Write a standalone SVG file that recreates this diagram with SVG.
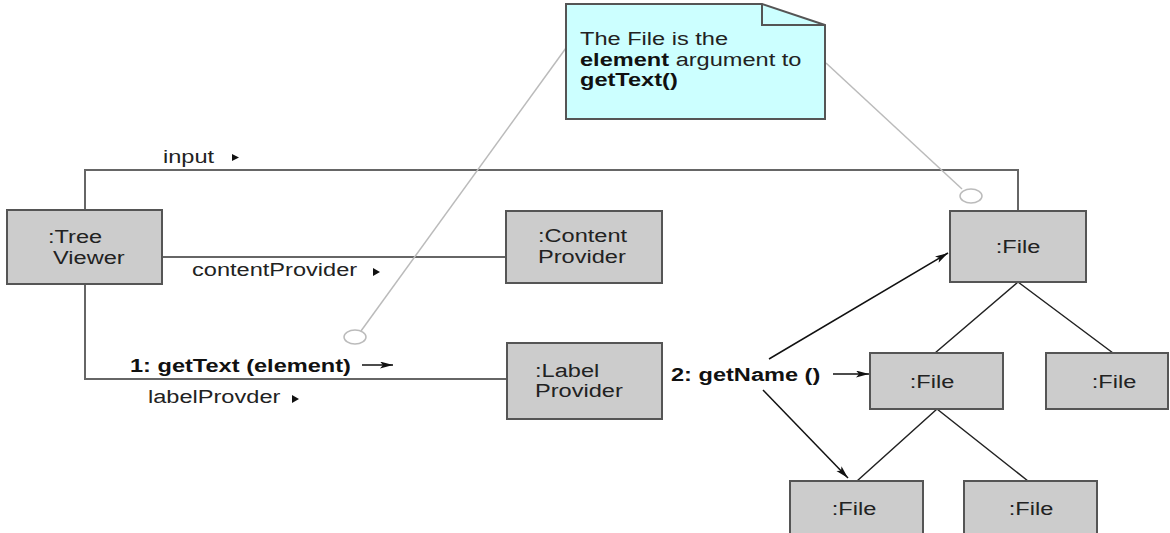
<svg xmlns="http://www.w3.org/2000/svg" width="1170" height="533" viewBox="0 0 1170 533">
  <defs>
    <marker id="arrow" markerUnits="userSpaceOnUse" markerWidth="14" markerHeight="8" refX="13" refY="3.5" orient="auto">
      <path d="M0,0 L13,3.5 L0,7 L3,3.5 Z" fill="#111"/>
    </marker>
  </defs>
  <style>
    text { font-family: "Liberation Sans", Arial, sans-serif; font-size: 18px; fill: #222; }
    .b { font-weight: bold; fill: #111; }
    .mid { text-anchor: middle; }
    .box { fill: #cccccc; stroke: #555; stroke-width: 2; }
    .link { fill: none; stroke: #666; stroke-width: 2; }
    .tree { fill: none; stroke: #222; stroke-width: 1.5; }
    .msg { fill: none; stroke: #111; stroke-width: 1.5; }
    .anchor { fill: none; stroke: #bbb; stroke-width: 1.5; }
    .tri { fill: #111; }
  </style>

  <!-- links between objects -->
  <g id="connectors">
    <path class="link" d="M85,210 V170 H1018 V211"/>
    <path class="link" d="M162,257 H506"/>
    <path class="link" d="M85,284 V379 H507"/>

    <!-- file tree -->
    <path class="tree" d="M1018,282 L935,353 M1018,282 L1113,353"/>
    <path class="tree" d="M937,409 L857,481 M937,409 L1028,481"/>

    <!-- messages -->
    <path class="msg" d="M362,365 H393" marker-end="url(#arrow)"/>
    <path class="msg" d="M833,374 H869" marker-end="url(#arrow)"/>
    <path class="msg" d="M769,359 L948,253" marker-end="url(#arrow)"/>
    <path class="msg" d="M763,390 L848,478" marker-end="url(#arrow)"/>

    <!-- note anchors -->
    <path class="anchor" d="M566,48 L361,331"/>
    <ellipse class="anchor" cx="355" cy="337" rx="11" ry="7"/>
    <path class="anchor" d="M826,63 L962,189"/>
    <ellipse class="anchor" cx="971" cy="196" rx="11" ry="7"/>

    <!-- link labels -->
    <text transform="translate(163 163) scale(1.31 1)">input</text>
    <path class="tri" d="M232,154 L239,157.5 L232,161 Z"/>
    <text transform="translate(192 276) scale(1.31 1)">contentProvider</text>
    <path class="tri" d="M373,268 L380,272 L373,276 Z"/>
    <text transform="translate(148 403) scale(1.31 1)">labelProvder</text>
    <path class="tri" d="M292,395 L299,399 L292,403 Z"/>
    <text class="b" transform="translate(130 372) scale(1.31 1)">1: getText (element)</text>
    <text class="b" transform="translate(671 381) scale(1.31 1)">2: getName ()</text>
  </g>

  <g id="note">
    <path d="M566,4 H762 L825,25 V119 H566 Z" fill="#ccffff" stroke="#555" stroke-width="2"/>
    <path d="M762,4 V25 H825" fill="none" stroke="#555" stroke-width="2"/>
    <text transform="translate(580 45) scale(1.31 1)">The File is the</text>
    <text transform="translate(580 65.5) scale(1.31 1)"><tspan class="b">element</tspan> argument to</text>
    <text class="b" transform="translate(580 86) scale(1.31 1)">getText()</text>
  </g>

  <g id="treeViewer">
    <rect class="box" x="7" y="210" width="155" height="74"/>
    <text transform="translate(48 243) scale(1.31 1)">:Tree</text>
    <text transform="translate(53 264) scale(1.31 1)">Viewer</text>
  </g>

  <g id="contentProvider">
    <rect class="box" x="506" y="211" width="156" height="72"/>
    <text transform="translate(538 242) scale(1.31 1)">:Content</text>
    <text transform="translate(538 263) scale(1.31 1)">Provider</text>
  </g>

  <g id="labelProvider">
    <rect class="box" x="507" y="343" width="155" height="76"/>
    <text transform="translate(535 377) scale(1.31 1)">:Label</text>
    <text transform="translate(535 397) scale(1.31 1)">Provider</text>
  </g>

  <g id="fileRoot">
    <rect class="box" x="950" y="211" width="136" height="71"/>
    <text class="mid" transform="translate(1018 253) scale(1.31 1)">:File</text>
  </g>

  <g id="fileChildA">
    <rect class="box" x="870" y="353" width="133" height="56"/>
    <text class="mid" transform="translate(932 388) scale(1.31 1)">:File</text>
  </g>

  <g id="fileChildB">
    <rect class="box" x="1046" y="353" width="122" height="56"/>
    <text class="mid" transform="translate(1114 388) scale(1.31 1)">:File</text>
  </g>

  <g id="fileLeafA">
    <rect class="box" x="790" y="481" width="133" height="60"/>
    <text class="mid" transform="translate(854 515) scale(1.31 1)">:File</text>
  </g>

  <g id="fileLeafB">
    <rect class="box" x="964" y="481" width="133" height="60"/>
    <text class="mid" transform="translate(1031 515) scale(1.31 1)">:File</text>
  </g>
</svg>
